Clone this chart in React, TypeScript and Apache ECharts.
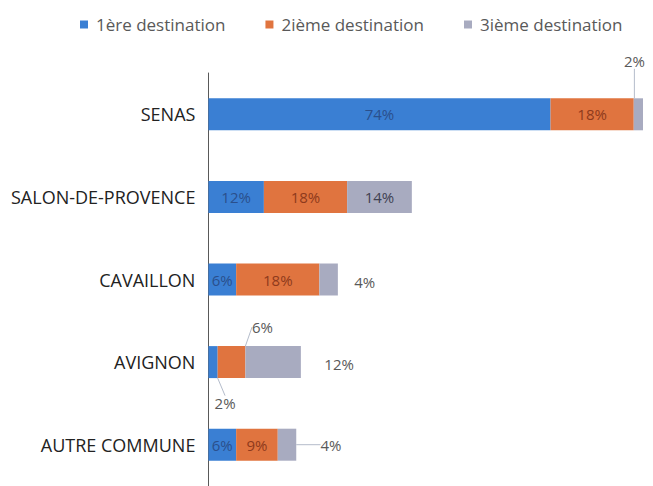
import React, { useEffect, useRef } from "react";
import * as echarts from "echarts";

const categories = ["SENAS", "SALON-DE-PROVENCE", "CAVAILLON", "AVIGNON", "AUTRE COMMUNE"];
const seriesNames = ["1ère destination", "2ième destination", "3ième destination"];
const first = [74, 12, 6, 2, 6];
const second = [18, 18, 18, 6, 9];
const third = [2, 14, 4, 12, 4];

const colors = ["#3a7fd3", "#e0743f", "#a8abc0"];
const insideText = ["#2a4f8c", "#8e3a1c", "#3f4152"];

// label moves for the small segments: [series][dataIndex] -> [dx, dy, showLine]
const moves: Record<number, Record<number, [number, number, boolean]>> = {
  0: { 3: [12, 41, true] },
  1: { 3: [31, -35, true] },
  2: { 0: [-4, -53, true], 2: [36, 2, false], 3: [66, 2, false], 4: [44, 0, true] },
};

export default function App() {
  const ref = useRef<HTMLDivElement>(null);
  useEffect(() => {
    if (!ref.current) return;
    const chart = echarts.init(ref.current, null, { renderer: "svg" });
    const all = [first, second, third];
    const series = all.map((vals, si) => ({
      name: seriesNames[si],
      type: "bar",
      stack: "total",
      barWidth: 32,
      itemStyle: { color: colors[si] },
      label: {
        show: true,
        position: "inside",
        formatter: "{c}%",
        color: insideText[si],
        fontSize: 15,
        fontFamily: "Open Sans",
      },
      labelLine: { show: true, lineStyle: { color: "#b4bccb", width: 1 } },
      labelLayout: (p: any) => {
        const m = moves[si] && moves[si][p.dataIndex];
        if (!m) return {};
        return { dx: m[0], dy: m[1] };
      },
      data: vals.map((v, di) => {
        const m = moves[si] && moves[si][di];
        if (!m) return { value: v, labelLine: { show: false } };
        return {
          value: v,
          label: { color: "#595959" },
          labelLine: { show: m[2] },
        };
      }),
    }));
    chart.setOption({
      animation: false,
      legend: {
        top: 3,
        left: 67,
        itemWidth: 8,
        itemHeight: 8,
        itemGap: 40,
        icon: "rect",
        textStyle: {
          color: "#595959",
          fontSize: 17,
          fontFamily: "Open Sans",
          padding: [0, 0, 0, 3],
        },
        data: seriesNames,
      },
      grid: { left: 198, right: 10, top: 65, bottom: 0 },
      xAxis: {
        type: "value",
        min: 0,
        max: 94,
        show: false,
      },
      yAxis: {
        type: "category",
        inverse: true,
        data: categories,
        axisTick: { show: false },
        axisLine: { show: true, lineStyle: { color: "#595959", width: 1 } },
        axisLabel: {
          color: "#222222",
          fontSize: 18,
          fontFamily: "Open Sans",
          margin: 13,
        },
      },
      series,
    });
    return () => chart.dispose();
  }, []);
  return <div ref={ref} style={{ width: 645, height: 478 }} />;
}
